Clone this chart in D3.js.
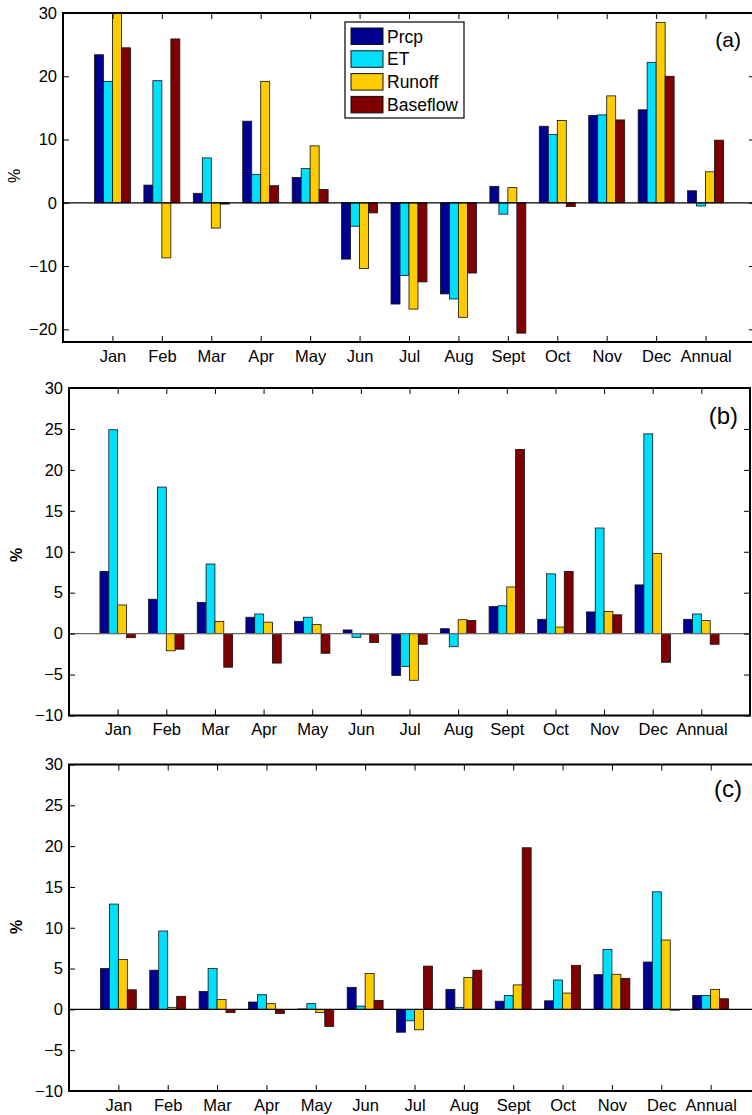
<!DOCTYPE html>
<html>
<head>
<meta charset="utf-8">
<script src="https://cdn.jsdelivr.net/npm/d3@7"></script>
<style>
  body { margin: 0; background: #fff; }
  text { font-family: "Liberation Sans", Arial, sans-serif; }
</style>
</head>
<body>
<script>
// categories and series
var months = ['Jan','Feb','Mar','Apr','May','Jun','Jul','Aug','Sept','Oct','Nov','Dec','Annual'];
var seriesNames = ['Prcp','ET','Runoff','Baseflow'];
var seriesColors = ['#000090','#00dfff','#ffcc00','#800000'];

// panel (a)
var a_prcp     = [23.4, 2.8, 1.5, 12.9, 4.0, -8.9, -16.0, -14.4, 2.6, 12.1, 13.8, 14.7, 1.9];
var a_et       = [19.2, 19.3, 7.1, 4.5, 5.4, -3.7, -11.5, -15.2, -1.8, 10.8, 13.9, 22.2, -0.5];
var a_runoff   = [30.8, -8.7, -4.0, 19.2, 9.0, -10.4, -16.8, -18.1, 2.4, 13.0, 16.9, 28.5, 4.9];
var a_baseflow = [24.5, 25.9, -0.2, 2.7, 2.1, -1.6, -12.5, -11.1, -20.6, -0.6, 13.1, 20.0, 9.9];
// panel (b)
var b_prcp     = [7.6, 4.2, 3.8, 2.0, 1.5, 0.45, -5.1, 0.6, 3.3, 1.75, 2.65, 5.95, 1.75];
var b_et       = [24.9, 17.9, 8.5, 2.4, 2.0, -0.45, -4.0, -1.6, 3.4, 7.3, 12.9, 24.4, 2.4];
var b_runoff   = [3.5, -2.1, 1.5, 1.4, 1.1, -0.05, -5.7, 1.7, 5.7, 0.8, 2.7, 9.8, 1.6];
var b_baseflow = [-0.5, -1.9, -4.1, -3.6, -2.4, -1.1, -1.3, 1.6, 22.5, 7.6, 2.3, -3.5, -1.3];
// panel (c)
var c_prcp     = [5.0, 4.8, 2.2, 0.9, 0.05, 2.7, -2.8, 2.45, 1.0, 1.05, 4.25, 5.8, 1.7];
var c_et       = [12.9, 9.6, 5.0, 1.8, 0.7, 0.4, -1.4, 0.25, 1.7, 3.6, 7.35, 14.4, 1.7];
var c_runoff   = [6.1, 0.25, 1.2, 0.7, -0.4, 4.4, -2.5, 3.9, 3.0, 2.0, 4.3, 8.5, 2.45];
var c_baseflow = [2.4, 1.6, -0.4, -0.5, -2.1, 1.1, 5.3, 4.8, 19.8, 5.4, 3.8, -0.1, 1.3];

var ticksA = [-20,-10,0,10,20,30];
var ticksBC = [-10,-5,0,5,10,15,20,25,30];

var svg = d3.select('body').append('svg').attr('width',752).attr('height',1115);

function drawPanel(p) {
  var x = d3.scaleLinear().domain([0,14]).range([p.left,p.right]);
  var y = d3.scaleLinear().domain(p.ydom).range([p.bottom,p.top]);
  var step = x(1)-x(0);
  var gw = 4/5.5*step;
  var inner = d3.scaleBand().domain(seriesNames).range([-gw/2,gw/2]);
  var g = svg.append('g');

  var clipId = 'clip'+p.tag;
  g.append('clipPath').attr('id',clipId).append('rect')
    .attr('x',p.left).attr('y',p.top).attr('width',p.right-p.left).attr('height',p.bottom-p.top);

  var rows = [];
  p.series.forEach(function(vals,si){
    vals.forEach(function(v,mi){ rows.push({s:si, m:mi, v:v}); });
  });
  g.append('g').attr('clip-path','url(#'+clipId+')')
    .selectAll('rect').data(rows).enter().append('rect')
      .attr('x',function(d){ return x(d.m+1)+inner(seriesNames[d.s]); })
      .attr('width',inner.bandwidth())
      .attr('y',function(d){ return Math.min(y(d.v),y(0)); })
      .attr('height',function(d){ return Math.abs(y(d.v)-y(0)); })
      .attr('fill',function(d){ return seriesColors[d.s]; })
      .attr('stroke','#111').attr('stroke-width',0.8);

  // zero line
  g.append('line').attr('x1',p.left).attr('x2',p.right).attr('y1',y(0)).attr('y2',y(0))
    .attr('stroke',p.zeroColor).attr('stroke-width',1.2);

  // axes (inward ticks, box)
  var tickVals = d3.range(1,14);
  g.append('g').attr('transform','translate(0,'+p.bottom+')')
    .call(d3.axisBottom(x).tickValues(tickVals).tickFormat(function(d){ return months[d-1]; })
      .tickSizeInner(-6).tickSizeOuter(0).tickPadding(8))
    .call(function(s){ s.select('.domain').remove(); });
  g.append('g').attr('transform','translate(0,'+p.top+')')
    .call(d3.axisTop(x).tickValues(tickVals).tickFormat('').tickSizeInner(-6).tickSizeOuter(0))
    .call(function(s){ s.select('.domain').remove(); });
  g.append('g').attr('transform','translate('+p.left+',0)')
    .call(d3.axisLeft(y).tickValues(p.ticks).tickFormat(d3.format('d'))
      .tickSizeInner(-6).tickSizeOuter(0).tickPadding(6))
    .call(function(s){ s.select('.domain').remove(); });
  g.append('g').attr('transform','translate('+p.right+',0)')
    .call(d3.axisRight(y).tickValues(p.ticks).tickFormat('').tickSizeInner(-6).tickSizeOuter(0))
    .call(function(s){ s.select('.domain').remove(); });
  g.selectAll('.tick line').attr('stroke','#000').attr('stroke-width',1);
  g.selectAll('.tick text').attr('font-size',16.5).attr('fill','#000')
    .attr('font-family','"Liberation Sans", Arial, sans-serif');

  g.append('rect').attr('x',p.left).attr('y',p.top)
    .attr('width',p.right-p.left).attr('height',p.bottom-p.top)
    .attr('fill','none').attr('stroke','#000').attr('stroke-width',2);

  g.append('text').attr('transform','translate('+p.ylabX+','+p.ylabY+') rotate(-90)')
    .attr('text-anchor','middle').attr('font-size',16)
    .attr('font-weight',p.ylabBold ? 'bold' : 'normal').text('%');

  g.append('text').attr('x',p.tagX).attr('y',p.tagY).attr('text-anchor','end')
    .attr('font-size',p.tagSize).text('('+p.tag+')');
}

drawPanel({tag:'a', left:63, right:755, top:13, bottom:342, ydom:[-22,30], ticks:ticksA,
  series:[a_prcp,a_et,a_runoff,a_baseflow], zeroColor:'#000',
  ylabX:20, ylabY:176, ylabBold:false, tagX:741, tagY:47, tagSize:21});
drawPanel({tag:'b', left:69, right:750, top:388, bottom:715.5, ydom:[-10,30], ticks:ticksBC,
  series:[b_prcp,b_et,b_runoff,b_baseflow], zeroColor:'#666',
  ylabX:22, ylabY:555, ylabBold:true, tagX:738, tagY:424, tagSize:24});
drawPanel({tag:'c', left:69, right:760, top:764.5, bottom:1091, ydom:[-10,30], ticks:ticksBC,
  series:[c_prcp,c_et,c_runoff,c_baseflow], zeroColor:'#000',
  ylabX:22, ylabY:927, ylabBold:true, tagX:742, tagY:797, tagSize:24});

// legend for panel (a)
var leg = svg.append('g');
leg.append('rect').attr('x',345).attr('y',22).attr('width',119).attr('height',96)
  .attr('fill','#fff').attr('stroke','#000').attr('stroke-width',1.2);
var li = leg.selectAll('g.item').data(seriesNames).enter().append('g').attr('class','item')
  .attr('transform',function(d,i){ return 'translate(351,'+(28+i*22.8)+')'; });
li.append('rect').attr('width',32).attr('height',16.5)
  .attr('fill',function(d,i){ return seriesColors[i]; }).attr('stroke','#111').attr('stroke-width',1);
li.append('text').attr('x',36).attr('y',14.5).attr('font-size',17.5).text(function(d){ return d; });
</script>
</body>
</html>
